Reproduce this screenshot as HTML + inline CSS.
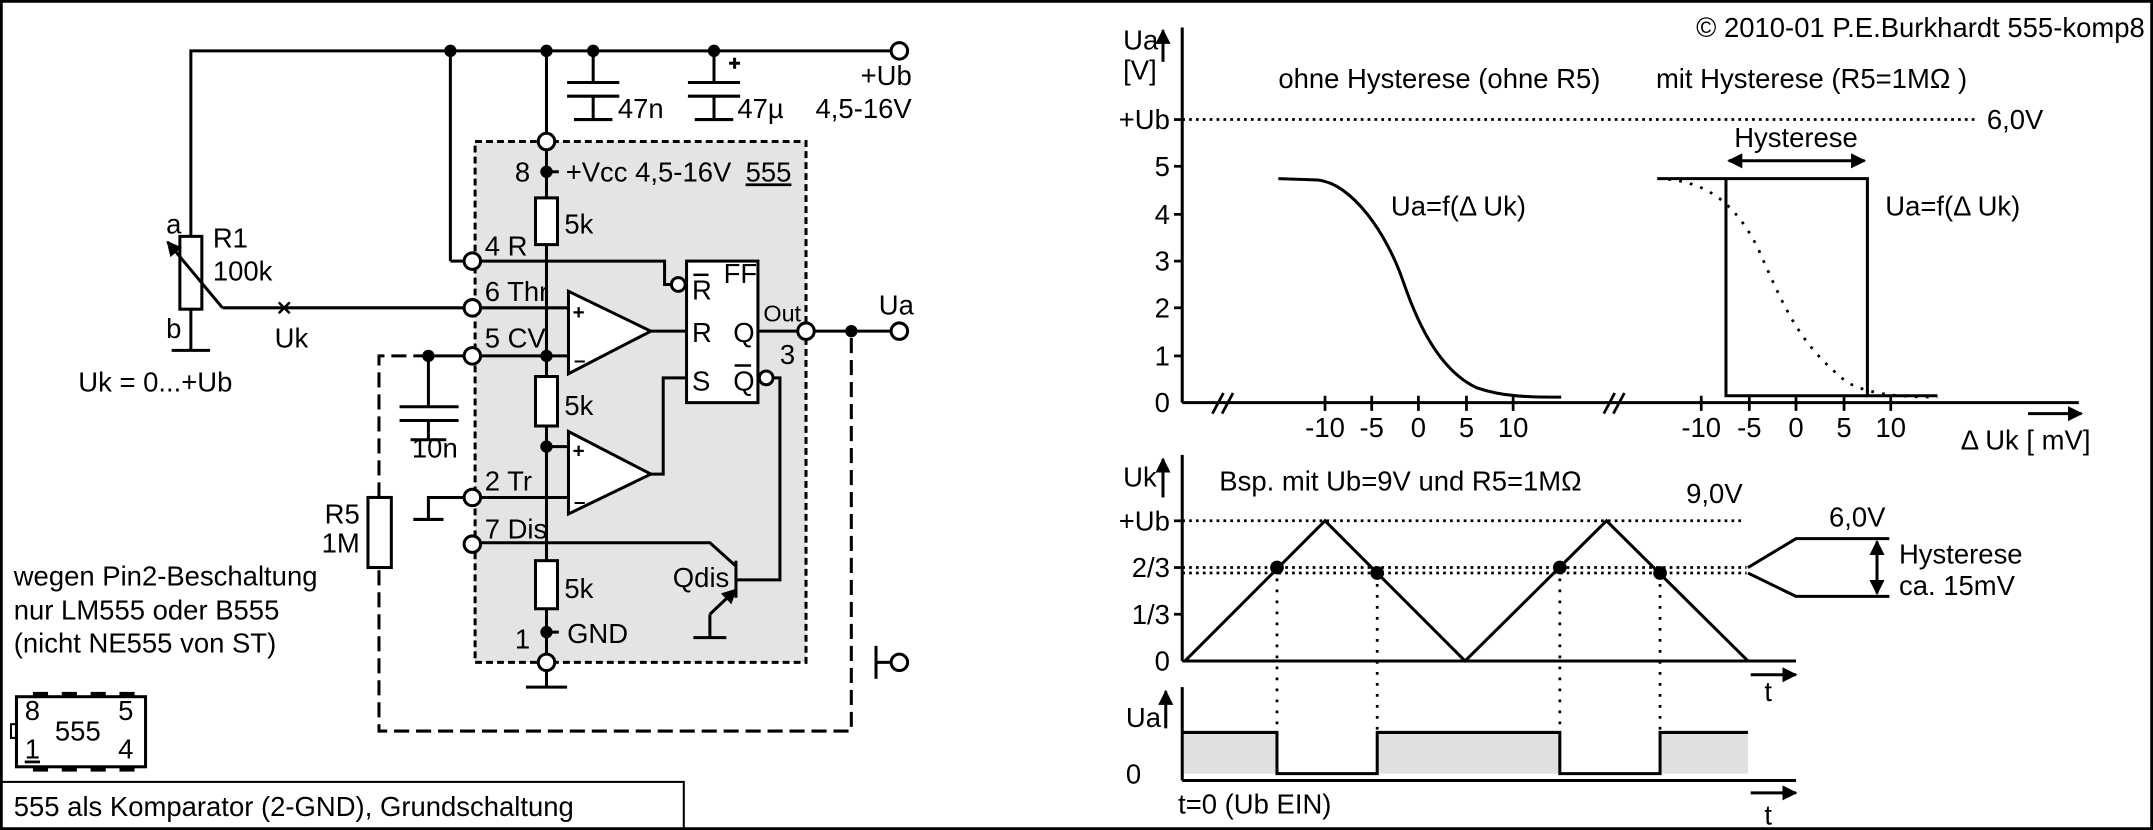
<!DOCTYPE html>
<html><head><meta charset="utf-8"><style>
html,body{margin:0;padding:0;background:#fff}
svg{display:block}
text{font-family:"Liberation Sans Narrow","Liberation Sans",sans-serif;font-size:20px;fill:#000}
</style></head><body>
<svg width="2153" height="830" viewBox="0 0 1568 604" preserveAspectRatio="none" xmlns="http://www.w3.org/2000/svg">
<defs>
<marker id="ah" viewBox="0 0 10 10" refX="9" refY="5" markerWidth="5" markerHeight="5" orient="auto-start-reverse"><path d="M0,0 L10,5 L0,10 z" fill="#000"/></marker>
</defs>
<rect x="1" y="1" width="1566" height="602" fill="none" stroke="#000" stroke-width="2"/>
<rect x="1" y="569" width="497" height="34" fill="none" stroke="#000" stroke-width="1.5"/>
<text x="10" y="594">555 als Komparator (2-GND), Grundschaltung</text>

<g stroke="#000" stroke-width="2.2" fill="none">
<rect x="346" y="103" width="241" height="379" fill="#e4e4e4" stroke-dasharray="5,3"/>
<polyline points="139,172 139,37 649,37"/>
<line x1="328" y1="37" x2="328" y2="190"/><line x1="328" y1="190" x2="338" y2="190"/>
<line x1="398" y1="37" x2="398" y2="97"/>
<line x1="432" y1="37" x2="432" y2="60"/><line x1="413" y1="60" x2="451" y2="60"/><line x1="413" y1="70" x2="451" y2="70"/><line x1="432" y1="70" x2="432" y2="87"/><line x1="418" y1="87" x2="446" y2="87"/>
<line x1="520" y1="37" x2="520" y2="60"/><line x1="501" y1="60" x2="539" y2="60"/><line x1="501" y1="70" x2="539" y2="70"/><line x1="520" y1="70" x2="520" y2="87"/><line x1="506" y1="87" x2="534" y2="87"/>
<line x1="531" y1="46" x2="539" y2="46"/><line x1="535" y1="42" x2="535" y2="50"/>
<rect x="131" y="172" width="16" height="53" fill="#fff"/>
<line x1="139" y1="225" x2="139" y2="255"/><line x1="125" y1="255" x2="153" y2="255"/>
<line x1="162" y1="224" x2="122" y2="176" marker-end="url(#ah)"/>
<line x1="162" y1="224" x2="338" y2="224"/>
<line x1="203" y1="220" x2="211" y2="228" stroke-width="1.8"/><line x1="211" y1="220" x2="203" y2="228" stroke-width="1.8"/>
<line x1="398" y1="109" x2="398" y2="144"/>
<rect x="390" y="144" width="16" height="34" fill="#fff"/>
<line x1="398" y1="178" x2="398" y2="274"/>
<rect x="390" y="274" width="16" height="36" fill="#fff"/>
<line x1="398" y1="310" x2="398" y2="408"/>
<rect x="390" y="408" width="16" height="35" fill="#fff"/>
<line x1="398" y1="443" x2="398" y2="476"/>
<line x1="398" y1="488" x2="398" y2="500"/><line x1="383" y1="500" x2="413" y2="500"/>
<line x1="398" y1="125" x2="407" y2="125"/><line x1="398" y1="460" x2="407" y2="460"/>
<polyline points="350,190 484,190 484,207 488,207"/>
<line x1="350" y1="224" x2="414" y2="224"/>
<line x1="350" y1="259" x2="414" y2="259"/>
<line x1="398" y1="325" x2="414" y2="325"/>
<line x1="350" y1="362" x2="414" y2="362"/>
<polyline points="338,362 312,362 312,378"/><line x1="301" y1="378" x2="323" y2="378"/>
<polyline points="350,395 517,395 536,412"/>
<polygon points="414,212 414,272 474,241" fill="#fff"/>
<polygon points="414,314 414,374 474,345" fill="#fff"/>
<line x1="474" y1="241" x2="500" y2="241"/>
<polyline points="474,345 483,345 483,275 500,275"/>
<rect x="500" y="190" width="52" height="103" fill="#fff"/>
<circle cx="494" cy="207" r="5" fill="#fff"/>
<circle cx="558" cy="275" r="5" fill="#fff"/>
<polyline points="563,275 568,275 568,422 537,422"/>
<line x1="536" y1="408" x2="536" y2="435"/>
<line x1="536" y1="429" x2="517" y2="447" marker-start="url(#ah)"/>
<polyline points="517,447 517,464"/><line x1="505" y1="464" x2="529" y2="464"/>
<line x1="552" y1="241" x2="581" y2="241"/>
<line x1="593" y1="241" x2="649" y2="241"/>
<line x1="312" y1="259" x2="338" y2="259"/>
<line x1="312" y1="259" x2="312" y2="296"/><line x1="291" y1="296" x2="334" y2="296"/><line x1="291" y1="306" x2="334" y2="306"/><line x1="312" y1="306" x2="312" y2="320"/><line x1="299" y1="320" x2="325" y2="320"/>
<polyline points="312,259 276,259 276,532 620,532 620,241" stroke-dasharray="11,5"/>
<rect x="268" y="362" width="17" height="51" fill="#fff"/>
<line x1="638" y1="470" x2="638" y2="494"/><line x1="638" y1="482" x2="649" y2="482"/>
<rect x="12" y="507" width="94" height="51"/>
<rect x="8" y="527" width="4" height="10" stroke-width="1.5"/>
<g stroke-width="3"><line x1="24" y1="505" x2="35" y2="505"/><line x1="45" y1="505" x2="56" y2="505"/><line x1="66" y1="505" x2="77" y2="505"/><line x1="87" y1="505" x2="98" y2="505"/>
<line x1="24" y1="560" x2="35" y2="560"/><line x1="45" y1="560" x2="56" y2="560"/><line x1="66" y1="560" x2="77" y2="560"/><line x1="87" y1="560" x2="98" y2="560"/></g>
</g>
<g stroke="#000" stroke-width="2.2" fill="#fff">
<circle cx="655" cy="37" r="6"/><circle cx="398" cy="103" r="6"/>
<circle cx="344" cy="190" r="6"/><circle cx="344" cy="224" r="6"/><circle cx="344" cy="259" r="6"/><circle cx="344" cy="362" r="6"/><circle cx="344" cy="396" r="6"/>
<circle cx="398" cy="482" r="6"/><circle cx="587" cy="241" r="6"/><circle cx="655" cy="241" r="6"/><circle cx="655" cy="482" r="6"/>
</g>
<g fill="#000">
<circle cx="328" cy="37" r="4.5"/><circle cx="398" cy="37" r="4.5"/><circle cx="432" cy="37" r="4.5"/><circle cx="520" cy="37" r="4.5"/>
<circle cx="398" cy="125" r="4.5"/><circle cx="398" cy="259" r="4.5"/><circle cx="398" cy="325" r="4.5"/><circle cx="398" cy="460" r="4.5"/>
<circle cx="312" cy="259" r="4.5"/><circle cx="620" cy="241" r="4.5"/>
</g>
<text x="121" y="170">a</text><text x="155" y="180">R1</text><text x="155" y="204">100k</text>
<text x="121" y="246">b</text><text x="200" y="253">Uk</text><text x="57" y="285">Uk = 0...+Ub</text>
<text x="450" y="86">47n</text><text x="537" y="86">47µ</text>
<text x="664" y="62" text-anchor="end">+Ub</text><text x="664" y="86" text-anchor="end">4,5-16V</text>
<text x="375" y="132">8</text><text x="412" y="132">+Vcc  4,5-16V</text><text x="543" y="132" text-decoration="underline">555</text>
<text x="411" y="170">5k</text><text x="411" y="302">5k</text><text x="411" y="435">5k</text>
<text x="353" y="186">4 R</text><text x="353" y="219">6 Thr</text><text x="353" y="253">5 CV</text><text x="353" y="357">2 Tr</text><text x="353" y="392">7 Dis</text>
<text x="375" y="472">1</text><text x="413" y="468">GND</text>
<text x="417" y="232" style="font-size:15px;font-weight:bold">+</text><text x="418" y="267" style="font-size:15px;font-weight:bold">–</text>
<text x="417" y="333" style="font-size:15px;font-weight:bold">+</text><text x="418" y="370" style="font-size:15px;font-weight:bold">–</text>
<text x="504" y="218">R</text><line x1="505" y1="200" x2="516" y2="200" stroke="#000" stroke-width="1.8"/>
<text x="527" y="206">FF</text><text x="504" y="249">R</text><text x="534" y="249">Q</text>
<text x="504" y="284">S</text><text x="534" y="284">Q</text><line x1="535" y1="266" x2="547" y2="266" stroke="#000" stroke-width="1.8"/>
<text x="556" y="234" style="font-size:17px">Out</text><text x="568" y="265">3</text>
<text x="640" y="229">Ua</text><text x="490" y="427">Qdis</text>
<text x="300" y="333">10n</text><text x="262" y="381" text-anchor="end">R5</text><text x="262" y="402" text-anchor="end">1M</text>
<text x="10" y="426">wegen Pin2-Beschaltung</text><text x="10" y="451">nur LM555 oder B555</text><text x="10" y="475">(nicht NE555 von ST)</text>
<text x="18" y="524">8</text><text x="40" y="539">555</text><text x="86" y="524">5</text>
<text x="18" y="552" text-decoration="underline">1</text><text x="86" y="552">4</text>

<text x="1562" y="27" text-anchor="end">© 2010-01 P.E.Burkhardt 555-komp8</text>
<g stroke="#000" stroke-width="2.2" fill="none">
<line x1="861" y1="293" x2="861" y2="20"/>
<line x1="847" y1="45" x2="847" y2="22" marker-end="url(#ah)"/>
<line x1="861" y1="293" x2="1514" y2="293"/>
<line x1="1477" y1="301" x2="1516" y2="301" marker-end="url(#ah)"/>
<g stroke-width="2"><line x1="883" y1="301" x2="891" y2="286"/><line x1="890" y1="301" x2="898" y2="286"/><line x1="1168" y1="301" x2="1176" y2="286"/><line x1="1175" y1="301" x2="1183" y2="286"/></g>
<g stroke-width="2">
<line x1="855" y1="87" x2="861" y2="87"/><line x1="855" y1="121" x2="861" y2="121"/><line x1="855" y1="156" x2="861" y2="156"/><line x1="855" y1="190" x2="861" y2="190"/><line x1="855" y1="224" x2="861" y2="224"/><line x1="855" y1="259" x2="861" y2="259"/>
<line x1="965" y1="288" x2="965" y2="299"/><line x1="999" y1="288" x2="999" y2="299"/><line x1="1033" y1="288" x2="1033" y2="299"/><line x1="1068" y1="288" x2="1068" y2="299"/><line x1="1102" y1="288" x2="1102" y2="299"/>
<line x1="1239" y1="288" x2="1239" y2="299"/><line x1="1274" y1="288" x2="1274" y2="299"/><line x1="1308" y1="288" x2="1308" y2="299"/><line x1="1343" y1="288" x2="1343" y2="299"/><line x1="1377" y1="288" x2="1377" y2="299"/>
</g>
<line x1="861" y1="87" x2="1440" y2="87" stroke-dasharray="2,3" stroke-width="2"/>
<path d="M931,130 L960,131 C985,134 1010,170 1022,205 C1034,240 1050,270 1075,282 C1095,289 1115,289 1137,289"/>
<polyline points="1207,130 1360,130 1360,288 1411,288"/>
<polyline points="1257,130 1257,288 1360,288"/>
<path d="M1207,130 C1240,131 1262,145 1280,180 C1300,225 1310,250 1345,278 C1362,288 1390,289 1411,289" stroke-dasharray="2,6" stroke-width="2"/>
<line x1="1259" y1="117" x2="1358" y2="117" marker-start="url(#ah)" marker-end="url(#ah)"/>
<line x1="861" y1="481" x2="861" y2="331"/>
<line x1="847" y1="362" x2="847" y2="334" marker-end="url(#ah)"/>
<line x1="861" y1="481" x2="1308" y2="481"/>
<line x1="1275" y1="491" x2="1308" y2="491" marker-end="url(#ah)"/>
<g stroke-width="2"><line x1="855" y1="379" x2="861" y2="379"/><line x1="855" y1="413" x2="861" y2="413"/><line x1="855" y1="447" x2="861" y2="447"/></g>
<line x1="861" y1="379" x2="1270" y2="379" stroke-dasharray="2,3" stroke-width="2"/>
<line x1="861" y1="413" x2="1272" y2="413" stroke-dasharray="2,3" stroke-width="2"/>
<line x1="861" y1="417" x2="1272" y2="417" stroke-dasharray="2,3" stroke-width="2"/>
<polyline points="863,481 965,379 1067,481 1170,379 1273,481"/>
<polyline points="1273,413 1308,392 1376,392"/><polyline points="1273,417 1308,434 1376,434"/>
<line x1="1367" y1="394" x2="1367" y2="432" marker-start="url(#ah)" marker-end="url(#ah)"/>
<g stroke-dasharray="2,6" stroke-width="2"><line x1="930" y1="413" x2="930" y2="533"/><line x1="1003" y1="417" x2="1003" y2="533"/><line x1="1136" y1="413" x2="1136" y2="533"/><line x1="1209" y1="417" x2="1209" y2="533"/></g>
<path d="M861,533 H930 V563 H1003 V533 H1136 V563 H1209 V533 H1273 V563 H861 Z" fill="#e0e0e0" stroke="none"/>
<polyline points="861,533 930,533 930,563 1003,563 1003,533 1136,533 1136,563 1209,563 1209,533 1273,533"/>
<line x1="861" y1="568" x2="861" y2="500"/>
<line x1="849" y1="530" x2="849" y2="503" marker-end="url(#ah)"/>
<line x1="861" y1="568" x2="1308" y2="568"/>
<line x1="1275" y1="577" x2="1308" y2="577" marker-end="url(#ah)"/>
</g>
<g fill="#000"><circle cx="930" cy="413" r="5"/><circle cx="1003" cy="417" r="5"/><circle cx="1136" cy="413" r="5"/><circle cx="1209" cy="417" r="5"/></g>
<text x="818" y="36">Ua</text><text x="818" y="58">[V]</text>
<text x="852" y="94" text-anchor="end">+Ub</text><text x="852" y="128" text-anchor="end">5</text><text x="852" y="163" text-anchor="end">4</text><text x="852" y="197" text-anchor="end">3</text><text x="852" y="231" text-anchor="end">2</text><text x="852" y="266" text-anchor="end">1</text><text x="852" y="300" text-anchor="end">0</text>
<text x="931" y="64">ohne Hysterese (ohne R5)</text><text x="1206" y="64">mit Hysterese (R5=1MΩ )</text>
<text x="1447" y="94">6,0V</text><text x="1308" y="107" text-anchor="middle">Hysterese</text>
<text x="1013" y="157">Ua=f(Δ Uk)</text><text x="1373" y="157">Ua=f(Δ Uk)</text>
<g text-anchor="middle"><text x="965" y="318">-10</text><text x="999" y="318">-5</text><text x="1033" y="318">0</text><text x="1068" y="318">5</text><text x="1102" y="318">10</text>
<text x="1239" y="318">-10</text><text x="1274" y="318">-5</text><text x="1308" y="318">0</text><text x="1343" y="318">5</text><text x="1377" y="318">10</text></g>
<text x="1428" y="327">Δ Uk [ mV]</text>
<text x="818" y="354">Uk</text><text x="888" y="357">Bsp. mit Ub=9V und R5=1MΩ</text>
<text x="1228" y="366">9,0V</text><text x="1332" y="383">6,0V</text>
<text x="852" y="386" text-anchor="end">+Ub</text><text x="852" y="420" text-anchor="end">2/3</text><text x="852" y="454" text-anchor="end">1/3</text><text x="852" y="488" text-anchor="end">0</text>
<text x="1383" y="410">Hysterese</text><text x="1383" y="433">ca. 15mV</text>
<text x="1285" y="510">t</text>
<text x="820" y="529">Ua</text><text x="820" y="570">0</text>
<text x="858" y="592">t=0 (Ub EIN)</text><text x="1285" y="600">t</text>
</svg>
</body></html>
